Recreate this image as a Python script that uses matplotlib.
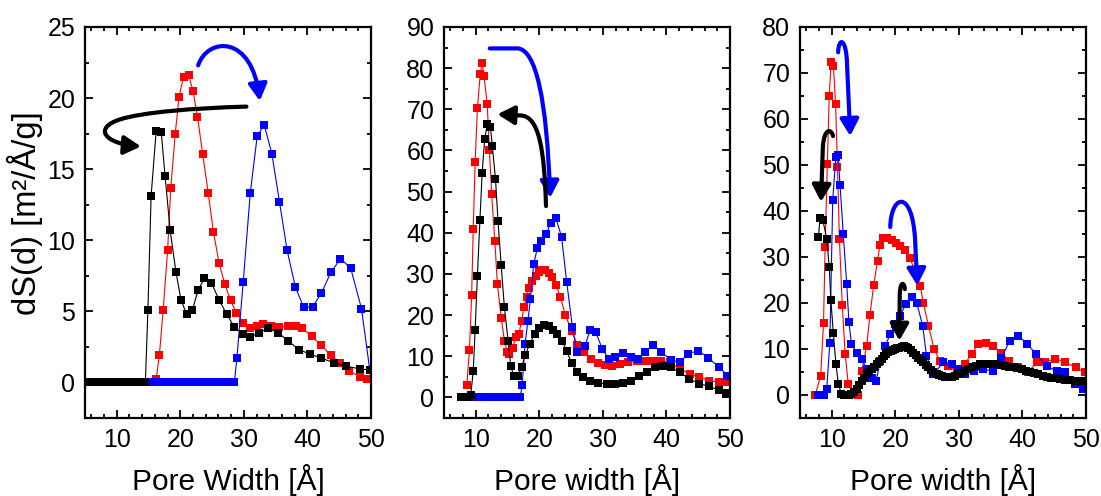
import matplotlib
matplotlib.use("Agg")
import matplotlib.pyplot as plt
from matplotlib.path import Path
from matplotlib.patches import FancyArrowPatch
from matplotlib.ticker import MultipleLocator

plt.rcParams['font.family'] = ['Liberation Sans', 'DejaVu Sans']

# ---------------- Panel 1 data ----------------
p1_black_x = [5.0, 5.5, 6.0, 6.5, 7.0, 7.5, 8.0, 8.5, 9.0, 9.5, 10.0, 10.5, 11.0, 11.5, 12.0, 12.5, 13.0, 13.5, 14.0, 14.5,
              14.9, 15.4, 16.2, 17.0, 17.6, 18.4, 19.3, 20.1, 21.0, 21.9, 22.8, 23.8, 24.9, 26.1, 27.3, 28.5, 29.8,
              31.0, 32.4, 33.8, 35.4, 37.0, 38.7, 40.4, 42.2, 44.1, 46.0, 48.2, 49.8]
p1_black_y = [0, 0, 0, 0, 0, 0, 0, 0, 0, 0, 0, 0, 0, 0, 0, 0, 0, 0, 0, 0,
              5.1, 13.1, 17.7, 17.6, 14.5, 10.7, 7.8, 5.8, 4.8, 5.1, 6.5, 7.35, 7.0, 5.8, 4.8, 3.9, 3.4,
              3.2, 3.5, 3.8, 3.5, 2.9, 2.3, 2.0, 1.7, 1.4, 1.15, 0.96, 0.87]
p1_red_x = [16.2, 16.7, 17.3, 18.0, 18.5, 19.2, 19.8, 20.5, 21.3, 22.0, 22.7, 23.5, 24.4, 25.2, 26.1, 27.0, 27.9,
            28.8, 29.9, 31.0, 32.0, 33.0, 34.2, 35.6, 37.0, 38.2, 39.2, 40.7, 42.2, 43.7, 45.1, 46.6, 48.3, 49.4]
p1_red_y = [0.26, 1.9, 5.1, 9.3, 13.7, 17.5, 20.1, 21.5, 21.6, 20.5, 18.7, 16.1, 13.3, 10.6, 8.4, 6.9, 5.8,
            4.9, 4.2, 3.8, 4.0, 4.1, 4.0, 3.9, 3.95, 4.0, 3.8, 3.25, 2.6, 1.9, 1.4, 0.8, 0.4, 0.26]
p1_blue_x = [5.0, 5.5, 6.0, 6.5, 7.0, 7.5, 8.0, 8.5, 9.0, 9.5, 10.0, 10.5, 11.0, 11.5, 12.0, 12.5, 13.0, 13.5,
             14.0, 14.5, 15.0, 15.5, 16.0, 16.5, 17.0, 17.5, 18.0, 18.5, 19.0, 19.5, 20.0, 20.5, 21.0, 21.5,
             22.0, 22.5, 23.0, 23.5, 24.0, 24.5, 25.0, 25.5, 26.0, 26.5, 27.0, 27.5, 28.0, 28.5,
             28.9, 29.9, 31.0, 32.1, 33.2, 34.4, 35.6, 36.8, 38.1, 39.4, 40.8, 42.2, 43.7, 45.2, 46.8, 48.5, 49.8]
p1_blue_y = [0, 0, 0, 0, 0, 0, 0, 0, 0, 0, 0, 0, 0, 0, 0, 0, 0, 0,
             0, 0, 0, 0, 0, 0, 0, 0, 0, 0, 0, 0, 0, 0, 0, 0,
             0, 0, 0, 0, 0, 0, 0, 0, 0, 0, 0, 0, 0, 0,
             1.7, 7.1, 13.3, 17.35, 18.1, 16.1, 12.7, 9.3, 6.7, 5.3, 5.3, 6.3, 7.75, 8.7, 8.05, 5.2, 0.9]

# ---------------- Panel 2 data ----------------
p2_black_x = [7.6, 8.0, 8.4, 8.8, 9.2, 9.6, 9.9, 10.25, 10.65, 11.0, 11.4, 11.8, 12.3, 12.6, 13.1, 13.5, 14.0, 14.5,
              15.1, 15.5, 16.0, 16.6, 17.2, 17.8, 18.5, 19.3, 19.9, 20.7, 21.5, 22.2, 22.8, 23.6, 24.3, 25.1,
              26.0, 26.9, 27.9, 29.3, 30.6, 31.9, 33.2, 34.5, 35.7, 36.9, 38.2, 39.4, 40.7, 42.1, 43.6, 45.2,
              46.7, 48.3, 49.4]
p2_black_y = [0, 0, 0, 0, 0.5, 6.4, 16.4, 29.4, 43.0, 54.5, 62.7, 66.4, 65.8, 61.1, 53.1, 42.8, 32.1, 21.9,
              13.6, 7.7, 5.1, 5.3, 7.3, 10.3, 13.1, 15.4, 16.9, 17.6, 17.4, 16.4, 15.4, 13.8, 11.2, 8.3,
              6.1, 4.9, 4.1, 3.5, 3.3, 3.3, 3.5, 4.1, 5.1, 6.1, 7.3, 7.7, 7.3, 6.1, 4.5, 3.3,
              2.7, 1.7, 1.0]
p2_red_x = [8.6, 9.0, 9.35, 9.6, 9.9, 10.25, 10.7, 11.0, 11.3, 11.8, 12.15, 12.5, 13.0, 13.4, 14.0, 14.5, 14.95,
            15.3, 15.8, 16.3, 16.8, 17.2, 17.6, 18.0, 18.4, 18.9, 19.4, 19.9, 20.4, 20.9, 21.5, 22.0, 22.6,
            23.3, 24.1, 25.1, 26.0, 27.0, 28.1, 29.3, 30.4, 31.5, 32.7, 34.0, 35.3, 36.6, 37.9, 39.2, 40.6,
            42.1, 43.7, 45.2, 46.7, 48.3, 49.5]
p2_red_y = [3.1, 11.5, 24.8, 41.0, 57.1, 70.2, 78.5, 81.3, 78.0, 71.3, 60.0, 49.4, 38.0, 27.5, 19.4, 13.8, 11.0,
            10.6, 12.0, 14.8, 15.5, 18.6, 22.0, 24.5, 26.5, 28.3, 29.6, 30.5, 30.9, 30.9, 30.2, 29.2, 27.4,
            24.5, 20.0, 16.1, 12.8, 11.0, 9.4, 8.3, 7.8, 7.7, 8.1, 8.5, 8.8, 8.8, 8.9, 8.8, 8.5,
            6.9, 5.7, 4.9, 4.1, 3.7, 3.7]
p2_blue_x = [9.5, 10.0, 10.5, 11.0, 11.5, 12.0, 12.5, 13.0, 13.5, 14.0, 14.5, 15.0, 15.5, 16.0, 16.5, 17.0,
             17.3, 17.75, 18.2, 18.6, 19.1, 19.7, 20.3, 21.1, 21.8, 22.6, 23.5, 24.3, 25.2, 25.9, 27.2, 28.0,
             28.9, 29.9, 30.9, 31.9, 33.1, 34.4, 35.6, 36.7, 37.9, 39.2, 40.7, 42.1, 43.4, 45.0, 46.6, 48.3, 49.6]
p2_blue_y = [0, 0, 0, 0, 0, 0, 0, 0, 0, 0, 0, 0, 0, 0, 0, 0,
             3.1, 13.0, 18.5, 24.0, 32.3, 36.4, 38.0, 39.8, 42.4, 43.6, 39.0, 28.1, 17.2, 11.0, 12.6, 16.4,
             15.8, 11.8, 9.4, 9.9, 10.7, 9.8, 9.4, 11.0, 12.8, 11.0, 9.1, 8.5, 10.6, 11.4, 9.6, 7.3, 5.3]

# ---------------- Panel 3 data ----------------
p3_black_x = [7.9, 8.15, 8.6, 9.2, 9.6, 9.85, 10.25, 10.65, 11.05, 11.5, 11.9, 12.3, 12.7, 13.1, 13.5, 13.9, 14.3,
              14.7, 15.1, 15.5, 15.9, 16.3, 16.7, 17.1, 17.5, 17.85, 18.2, 18.55, 18.9, 19.3, 19.6, 19.95, 20.3,
              20.65, 21.0, 21.4, 21.7, 22.05, 22.45, 22.85, 23.2, 23.6, 24.0, 24.4, 24.8, 25.2, 25.6, 26.0,
              26.5, 26.9, 27.35, 27.8, 28.3, 28.9, 29.4, 29.9, 30.4, 31.0, 31.5, 32.0, 32.7, 33.3, 34.0, 34.6,
              35.3, 35.9, 36.6, 37.3, 37.9, 38.6, 39.2, 39.9, 40.5, 41.2, 41.8, 42.5, 43.2, 43.8, 44.5, 45.1,
              45.9, 46.7, 47.5, 48.3, 49.0, 49.8]
p3_black_y = [34.3, 38.5, 38.0, 34.0, 27.8, 20.7, 13.4, 6.8, 2.3, 0.3, 0.0, 0.0, 0.0, 0.2, 0.7, 1.3, 2.2,
              3.1, 3.8, 4.5, 5.1, 5.6, 6.1, 6.7, 7.2, 7.8, 8.4, 8.9, 9.3, 9.6, 9.8, 10.0, 10.2,
              10.3, 10.5, 10.7, 10.5, 10.2, 9.7, 9.2, 8.6, 8.1, 7.6, 7.1, 6.5, 6.0, 5.4, 4.9,
              4.6, 4.4, 4.1, 3.9, 3.9, 3.9, 4.2, 4.5, 4.8, 5.2, 5.6, 6.1, 6.4, 6.7, 6.8, 6.8,
              6.8, 6.7, 6.5, 6.3, 6.1, 6.0, 5.8, 5.6, 5.3, 5.1, 4.8, 4.5, 4.2, 3.9, 3.7, 3.6,
              3.4, 3.3, 3.2, 3.1, 3.1, 3.1]
p3_red_x = [7.4, 8.25, 8.7, 8.95, 9.3, 9.6, 9.9, 10.25, 10.6, 10.9, 11.2, 11.65, 12.1, 12.6, 13.4, 14.2, 14.7,
            15.5, 16.0, 16.6, 17.2, 17.6, 18.1, 18.7, 19.4, 20.1, 20.7, 21.5, 22.3, 23.1, 23.9, 24.4, 25.2,
            26.1, 27.0, 28.3, 29.7, 30.9, 32.0, 33.05, 34.2, 35.4, 36.7, 37.9, 39.35, 40.8, 42.3, 43.5,
            45.1, 46.7, 48.4, 49.8]
p3_red_y = [0.0, 4.1, 15.6, 32.1, 50.2, 64.9, 72.5, 71.6, 63.3, 49.5, 34.0, 19.6, 9.0, 2.3, 0.3, 0.0, 5.2,
            10.7, 17.4, 23.9, 29.2, 32.7, 34.2, 34.2, 33.6, 33.0, 32.3, 31.6, 29.8, 26.9, 23.8, 20.1, 15.1,
            10.0, 7.4, 6.3, 5.2, 6.7, 8.9, 11.1, 11.4, 10.7, 9.2, 7.4, 6.0, 4.9, 7.1, 7.1,
            7.9, 7.2, 6.0, 4.9]
p3_blue_x = [7.9, 8.7, 9.2, 9.7, 10.15, 10.65, 11.0, 11.3, 11.8, 12.35, 12.7, 13.1, 13.9, 14.7, 15.5, 16.3,
             17.0, 17.6, 18.4, 19.2, 19.9, 20.7, 21.7, 22.6, 23.35, 24.3, 24.9, 26.0, 27.55, 28.9, 29.9,
             31.0, 32.3, 33.8, 35.4, 36.7, 38.0, 39.35, 40.7, 42.2, 43.8, 45.4, 46.7, 48.3, 49.6]
p3_blue_y = [0.0, 0.0, 1.2, 11.4, 42.5, 51.8, 52.1, 45.7, 35.1, 24.1, 15.8, 11.1, 9.2, 7.8, 5.6, 3.8,
             3.0, 7.4, 10.7, 13.2, 15.4, 17.2, 19.8, 21.2, 20.1, 15.1, 8.5, 4.5, 7.1, 6.7, 5.6,
             4.5, 5.2, 5.6, 5.2, 8.1, 11.8, 12.9, 11.1, 8.9, 6.3, 5.2, 4.9, 2.3, 1.2]

x_ticks = [10, 20, 30, 40, 50]
y_limits = [(-2.5, 25), (-5, 90), (-5, 80)]
y_major = [5, 10, 10]
y_minor = [2.5, 5, 5]
x_labels = ["Pore Width [Å]", "Pore width [Å]", "Pore width [Å]"]
y_label = "dS(d) [m²/Å/g]"

RED = "#ff0000"
BLUE = "#0000ff"
BLACK = "#000000"

W, H = 1101, 496
fig = plt.figure(figsize=(W / 100, H / 100), dpi=100)
lefts = [85, 444, 800]
axes = []
for i, L in enumerate(lefts):
    ax = fig.add_axes([L / W, (H - 418) / H, 286 / W, 391 / H])
    axes.append(ax)

series = [
    [(p1_red_x, p1_red_y, RED), (p1_blue_x, p1_blue_y, BLUE), (p1_black_x, p1_black_y, BLACK)],
    [(p2_red_x, p2_red_y, RED), (p2_blue_x, p2_blue_y, BLUE), (p2_black_x, p2_black_y, BLACK)],
    [(p3_red_x, p3_red_y, RED), (p3_blue_x, p3_blue_y, BLUE), (p3_black_x, p3_black_y, BLACK)],
]

for i, ax in enumerate(axes):
    for xs, ys, c in series[i]:
        ax.plot(xs, ys, '-', color=c, lw=0.8, marker='s', ms=5.6, mec=c, mfc=c, mew=0)
    ax.set_xlim(5, 50)
    ax.set_ylim(*y_limits[i])
    ax.set_xticks(x_ticks)
    ax.xaxis.set_minor_locator(MultipleLocator(2))
    ax.yaxis.set_major_locator(MultipleLocator(y_major[i]))
    ax.yaxis.set_minor_locator(MultipleLocator(y_minor[i]))
    ax.set_ylim(*y_limits[i])
    ax.tick_params(which='both', direction='in', top=True, right=True, width=1.3,
                   labelsize=18, pad=7)
    ax.tick_params(which='major', length=5.5)
    ax.tick_params(which='minor', length=3)
    for s in ax.spines.values():
        s.set_linewidth(1.6)
    ax.text(0.5, (418 - 480) / 391, x_labels[i], transform=ax.transAxes,
            ha='center', va='center', fontsize=21.5)

fig.text(25 / W, 1 - 213 / H, y_label, rotation=90, ha='center', va='center', fontsize=23.5)


def curved_arrow(ax, verts, codes, color):
    p = Path(verts, codes)
    a = FancyArrowPatch(path=p, arrowstyle='-|>,head_length=0.5,head_width=0.28',
                        mutation_scale=20, lw=3, color=color, zorder=5)
    ax.add_patch(a)


M, C, Lc = Path.MOVETO, Path.CURVE4, Path.LINETO

# Panel 1 arrows
curved_arrow(axes[0], [(22.8, 22.3), (24.3, 24.3), (31.3, 24.5), (32.5, 19.8)], [M, C, C, C], BLUE)
curved_arrow(axes[0], [(30.4, 19.4), (22, 19.3), (14, 19.0), (10.5, 18.5),
                       (6.3, 17.9), (8.0, 16.8), (13.8, 16.6)], [M, C, C, C, C, C, C], BLACK)
# Panel 2 arrows
curved_arrow(axes[1], [(12.2, 84.8), (16.5, 84.8), (19.5, 84.8), (21.2, 72.0), (21.7, 48.5)],
             [M, Lc, C, C, C], BLUE)
curved_arrow(axes[1], [(21.05, 46.5), (20.8, 60.0), (20.0, 68.5), (17.0, 68.5), (13.4, 68.8)],
             [M, C, C, C, Lc], BLACK)
# Panel 3 arrows
curved_arrow(axes[2], [(11.0, 74.5), (11.1, 78.0), (12.3, 77.5), (12.4, 72.0), (12.9, 56.3)],
             [M, C, C, C, Lc], BLUE)
curved_arrow(axes[2], [(10.2, 56.3), (9.9, 58.0), (8.8, 58.0), (8.6, 54.0), (8.3, 42.0)],
             [M, C, C, C, Lc], BLACK)
curved_arrow(axes[2], [(19.2, 36.5), (19.3, 43.5), (22.6, 45.0), (23.1, 34.0), (23.45, 23.8)],
             [M, C, C, C, Lc], BLUE)
curved_arrow(axes[2], [(21.5, 23.0), (21.4, 24.6), (20.8, 24.8), (20.7, 22.0), (20.62, 11.8)],
             [M, C, C, C, Lc], BLACK)

fig.savefig("out.png", dpi=100)
